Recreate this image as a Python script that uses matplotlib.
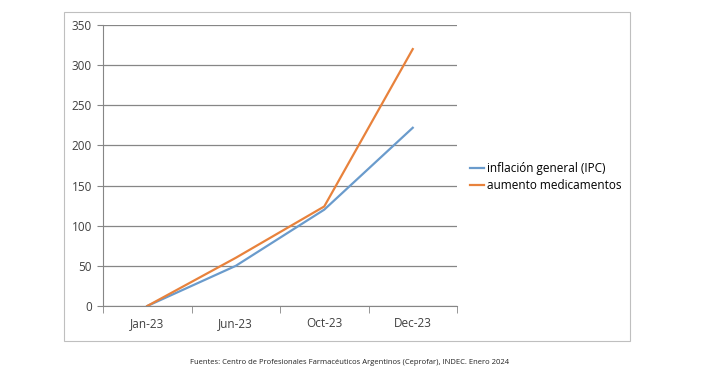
import matplotlib.pyplot as plt
from matplotlib.patches import Rectangle

months = ['Jan-23', 'Jun-23', 'Oct-23', 'Dec-23']
ipc = [0, 50, 120, 222]
medicamentos = [0, 60, 124, 320]
yticks = [0, 50, 100, 150, 200, 250, 300, 350]

plt.rcParams['font.family'] = ['Open Sans', 'DejaVu Sans']

fig = plt.figure(figsize=(7.11, 3.75), dpi=100)
fig.patches.append(Rectangle((64 / 711, 1 - 341 / 375), 566 / 711, 329 / 375,
                             transform=fig.transFigure, fill=False,
                             edgecolor='#bfbfbf', lw=0.8))

ax = fig.add_axes([103 / 711, 1 - 306 / 375, 354 / 711, 281 / 375])
x = range(len(months))
ax.plot(x, ipc, color='#6a9bcc', lw=1.6, label='inflación general (IPC)')
ax.plot(x, medicamentos, color='#e8823c', lw=1.6, label='aumento medicamentos')

ax.set_xlim(-0.5, len(months) - 0.5)
ax.set_ylim(0, 350)
ax.set_yticks(yticks)
ax.set_xticks(list(x))
ax.set_xticklabels(months)
ax.set_xticks([i - 0.5 for i in range(len(months) + 1)], minor=True)
ax.tick_params(axis='x', which='major', length=0, pad=8, labelsize=8.5, colors='#404040')
ax.tick_params(axis='x', which='minor', length=5, color='#868686', direction='out')
ax.tick_params(axis='y', length=4, color='#868686', labelsize=8.5, colors='#404040', pad=4)
ax.tick_params(axis='y', color='#868686')
ax.grid(axis='y', color='#868686', lw=0.9)
ax.set_axisbelow(True)
for s in ['top', 'right']:
    ax.spines[s].set_visible(False)
ax.spines['left'].set_color('#868686')
ax.spines['bottom'].set_color('#868686')

fig.legend(loc='center left', bbox_to_anchor=(465 / 711, 1 - 177 / 375),
           frameon=False, fontsize=8.5, handlelength=1.2, handletextpad=0.3,
           labelspacing=0.3, borderaxespad=0)

fig.text(350 / 711, 1 - 363 / 375,
         'Fuentes: Centro de Profesionales Farmacéuticos Argentinos (Ceprofar), INDEC. Enero 2024',
         ha='center', va='center', fontsize=5.5, color='#222222')

fig.savefig('out.png', dpi=100)
